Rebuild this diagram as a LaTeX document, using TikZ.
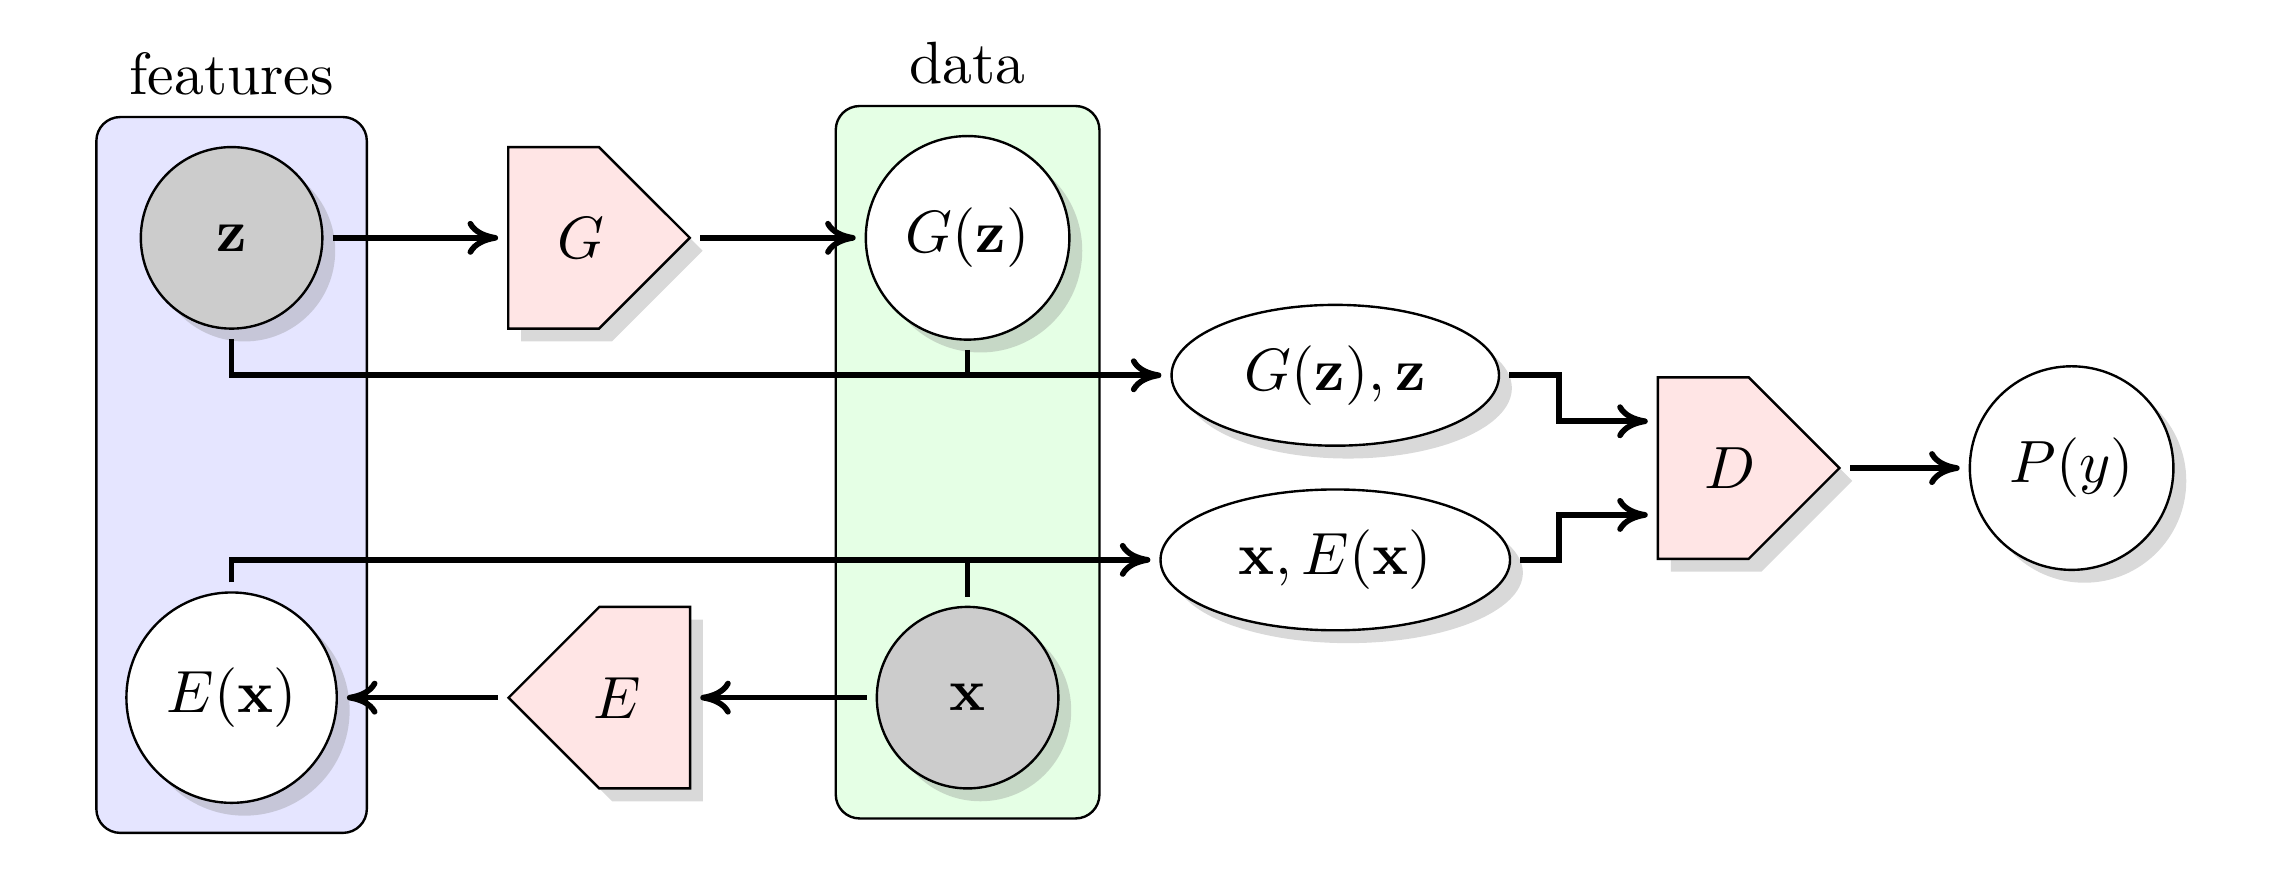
\documentclass[tikz,border=0pt]{standalone}
\usetikzlibrary{shapes.geometric,shapes.symbols,shadows,fit,backgrounds,arrows.meta,positioning}

\tikzset{
    schatten/.style={drop shadow={opacity=0.3}},
    var/.style={circle, draw, schatten, inner sep=1pt},
    netz/.style={signal, draw, fill=red!10, schatten, minimum width=1.07cm, minimum height=1.07cm, inner sep=0pt},
    paar/.style={ellipse, draw, fill=white, schatten, inner sep=0pt},
    platte/.style={draw, rounded corners, inner sep=0.17cm},
    pfeil/.style={line width=0.95pt, -{To[length=1.8mm,width=2mm]}, shorten <=1.5pt, shorten >=1.5pt},
    linie/.style={line width=0.95pt, shorten <=1.5pt},
}

\begin{document}
\begin{tikzpicture}
    \useasboundingbox (0,0) rectangle (13.45,-5.18);

    % Variablen (Kreise)
    \foreach \name/\xPos/\yPos/\fuell/\groesse/\inhalt in {z/1.365/-1.402/black!20/1.07/{$\mathbf{z}$},
                                                          Ex/1.365/-4.112/white/1.24/{$E(\mathbf{x})$},
                                                          Gz/5.703/-1.402/white/1.2/{$G(\mathbf{z})$},
                                                          x/5.703/-4.112/black!20/1.07/{$\mathbf{x}$},
                                                          Py/12.21/-2.759/white/1.2/{$P(y)$}}
        {
            \node[var, fill=\fuell, minimum size=\groesse cm] (\name) at (\xPos,\yPos) {\inhalt};
        }

    % Netze
    \node[netz, signal to=east, label={[xshift=0.16cm]center:$G$}] (G) at (3.263,-1.402) {};
    \node[netz, signal to=west, label={[xshift=-0.16cm]center:$E$}] (E) at (3.80,-4.112) {};
    \node[netz, signal to=east, label={[xshift=0.155cm]center:$D$}] (D) at (10.039,-2.759) {};

    % Paare
    \node[paar, minimum width=1.93cm, minimum height=0.83cm] (Gzz) at (7.87,-2.212) {$G(\mathbf{z}),\mathbf{z}$};
    \node[paar, minimum width=2.06cm, minimum height=0.83cm] (xEx) at (7.87,-3.30) {$\mathbf{x},E(\mathbf{x})$};

    % Kaesten im Hintergrund
    \begin{scope}[on background layer]
        \node[platte, fill=blue!10, fit=(z)(Ex), label=above:features] (feat) {};
        \node[platte, fill=green!10, fit=(Gz)(x), label=above:data] (dat) {};
    \end{scope}

    % Verbindungen
    \coordinate (j) at (9.19,0);
    \draw[pfeil] (z) -- (G);
    \draw[pfeil] (G) -- (Gz);
    \draw[pfeil] (z) |- (Gzz);
    \draw[linie] (Gz) -- (Gz |- Gzz);
    \draw[pfeil] (Ex) |- (xEx);
    \draw[linie] (x) -- (x |- xEx);
    \draw[pfeil] (x) -- (E);
    \draw[pfeil] (E) -- (Ex);
    \draw[pfeil] (Gzz) -- (Gzz -| j) |- ([yshift=0.276cm]D.west);
    \draw[pfeil] (xEx) -- (xEx -| j) |- ([yshift=-0.276cm]D.west);
    \draw[pfeil] (D) -- (Py);
\end{tikzpicture}
\end{document}
